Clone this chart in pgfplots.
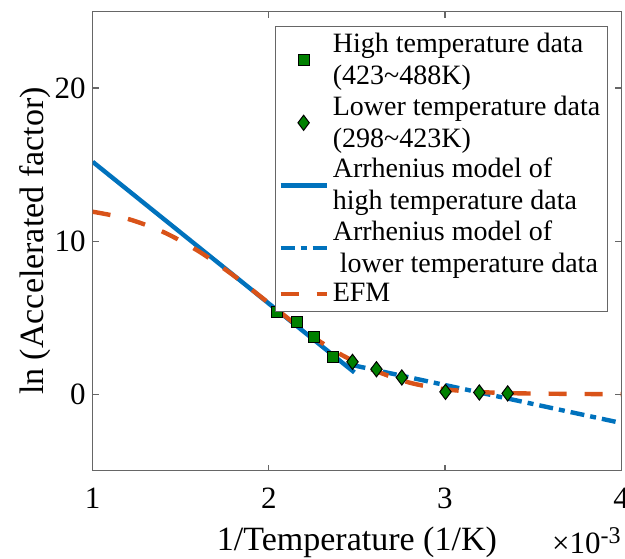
\documentclass[border=0pt]{standalone}
\usepackage{pgfplots}
\pgfplotsset{compat=1.18}
\usepackage{fontspec}
\setmainfont{Liberation Serif}
\definecolor{mblue}{rgb}{0,0.447,0.741}
\definecolor{morange}{rgb}{0.85,0.325,0.098}
\definecolor{mgreen}{rgb}{0,0.5,0}
\begin{document}
\begin{tikzpicture}
\begin{axis}[
 name=ax,
 at={(0pt,0pt)}, anchor=south west,
 scale only axis, width=264.2pt, height=229.6pt,
 xmin=1, xmax=4, ymin=-5, ymax=25,
 xtick={1,2,3,4}, ytick={0,10,20},
 tick align=inside, tick pos=both,
 major tick length=3pt,
 axis line style={black!60, line width=0.6pt},
 every tick/.style={black!60, line width=0.6pt},
 /pgf/number format/assume math mode=true,
 ticklabel style={font=\fontsize{15.5}{16}\selectfont},
 xticklabel style={yshift=-5pt},
 label style={font=\fontsize{17}{18}\selectfont},
 xlabel={1/Temperature (1/K)},
 ylabel={ln (Accelerated factor)},
 xlabel style={yshift=-2.2pt},
 ylabel style={yshift=-5pt},
 legend style={at={(0.9745,0.969)}, anchor=north east, font=\fontsize{14}{16}\selectfont, draw=black!60, inner sep=1.5pt, row sep=0pt, cells={align=left}},
 legend cell align=left,
 legend image code/.code={\draw[mark repeat=2,mark phase=2,#1] plot coordinates {(0pt,0pt) (11.5pt,0pt) (23pt,0pt)};},
]
\addplot[only marks, mark=square*, mark size=2.75pt, mark options={fill=mgreen, draw=black, line width=0.5pt}] coordinates {
 (2.049,5.36) (2.160,4.71) (2.257,3.73) (2.364,2.42)
};
\addlegendentry{High temperature data\\(423\textasciitilde488K)}
\addplot[only marks, mark=diamond*, mark size=3.8pt, mark options={fill=mgreen, draw=black, line width=0.5pt}] coordinates {
 (2.475,2.11) (2.611,1.63) (2.755,1.09) (3.003,0.15) (3.195,0.11) (3.356,0.05)
};
\addlegendentry{Lower temperature data\\(298\textasciitilde423K)}
\addplot[mblue, line width=2.2pt] coordinates {
 (1.0,15.18) (2.486,1.42)
};
\addlegendentry{Arrhenius model of\\high temperature data}
\addplot[mblue, line width=2.2pt, dash pattern=on 7pt off 3pt on 3pt off 3pt] coordinates {
 (2.47,1.91) (4.0,-1.88)
};
\addlegendentry{Arrhenius model of\\\hspace{0.25em}lower temperature data}
\addplot[morange, line width=2.2pt, dash pattern=on 9pt off 9pt, smooth] coordinates {
 (1.0,11.92) (1.2,11.45) (1.4,10.6) (1.6,9.35) (1.8,7.75) (2.0,5.95) (2.2,4.15) (2.4,2.65) (2.6,1.55) (2.8,0.75) (3.0,0.32) (3.2,0.14) (3.4,0.06) (3.6,0.03) (3.8,0.01) (4.0,0.0)
};
\addlegendentry{EFM}
\end{axis}
\node[anchor=north east, inner sep=0pt, font=\fontsize{15.5}{16}\selectfont] at ([yshift=-28pt]ax.south east) {×10\raisebox{0.75ex}{\fontsize{12}{12}\selectfont -3}};
\pgfresetboundingbox
\path (-46.35pt,-43.65pt) rectangle (266.15pt,235.35pt);
\end{tikzpicture}
\end{document}
